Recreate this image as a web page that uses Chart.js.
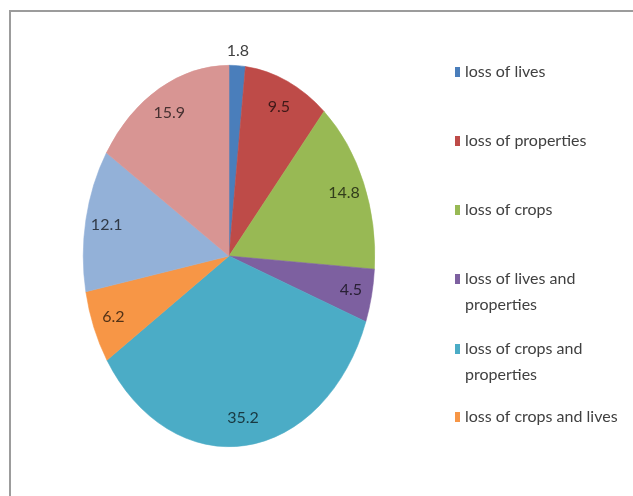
<!DOCTYPE html>
<html>
<head>
<meta charset="utf-8">
<script src="https://cdn.jsdelivr.net/npm/chart.js@4/dist/chart.umd.min.js"></script>
<style>
  html, body { margin: 0; padding: 0; background: #ffffff; overflow: hidden; }
  #c { display: block; }
</style>
</head>
<body>
<canvas id="c" width="633" height="496"></canvas>
<script>
// ---- data ----
const categories = [
  'loss of lives',
  'loss of properties',
  'loss of crops',
  'loss of lives and properties',
  'loss of crops and properties',
  'loss of crops and lives',
  'loss of lives, crops and properties',
  'no loss'
];
const values = [1.8, 9.5, 14.8, 4.5, 35.2, 6.2, 12.1, 15.9];
const valueLabels = ['1.8', '9.5', '14.8', '4.5', '35.2', '6.2', '12.1', '15.9'];
const legendShown = 6; // legend in the picture is cut after six entries

// ---- style ----
const sliceColors = ['#4A7EBB', '#BE4B48', '#98B954', '#7D60A0', '#4BACC6', '#F79646', '#93B1D8', '#D89593'];
const yStretch = 191 / 146;

function darken(hex, f) {
  const n = parseInt(hex.slice(1), 16);
  const r = Math.round(((n >> 16) & 255) * f);
  const g = Math.round(((n >> 8) & 255) * f);
  const b = Math.round((n & 255) * f);
  return 'rgb(' + r + ',' + g + ',' + b + ')';
}

const stretchPlugin = {
  id: 'stretch',
  beforeDraw(chart) {
    const ctx = chart.ctx;
    ctx.save();
    ctx.fillStyle = '#ffffff';
    ctx.fillRect(0, 0, chart.width, chart.height);
    ctx.strokeStyle = '#9c9c9c';
    ctx.lineWidth = 2;
    ctx.beginPath();
    ctx.moveTo(633, 11);
    ctx.lineTo(10, 11);
    ctx.lineTo(10, 496);
    ctx.stroke();
    ctx.restore();
  },
  beforeDatasetsDraw(chart) {
    const a = chart.chartArea;
    const cy = (a.top + a.bottom) / 2;
    const ctx = chart.ctx;
    ctx.save();
    ctx.translate(0, cy);
    ctx.scale(1, yStretch);
    ctx.translate(0, -cy);
  },
  afterDatasetsDraw(chart) {
    chart.ctx.restore();
  },
  afterDraw(chart) {
    const ctx = chart.ctx;
    const meta = chart.getDatasetMeta(0);
    // value labels
    ctx.save();
    ctx.font = '16px Lato, "Open Sans", sans-serif';
    ctx.textAlign = 'center';
    ctx.textBaseline = 'middle';
    meta.data.forEach((arc, i) => {
      const p = arc.getProps(['x', 'y', 'startAngle', 'endAngle', 'outerRadius'], true);
      const mid = (p.startAngle + p.endAngle) / 2;
      const share = values[i] / values.reduce((s, v) => s + v, 0);
      const frac = share < 0.03 ? 1.08 : 0.855;
      const x = p.x + Math.cos(mid) * p.outerRadius * frac;
      const y = p.y + Math.sin(mid) * p.outerRadius * frac * yStretch;
      ctx.fillStyle = share < 0.03 ? '#404040' : darken(sliceColors[i], 0.33);
      ctx.fillText(valueLabels[i], x, y);
    });
    ctx.restore();

    // legend
    ctx.save();
    ctx.font = '16px Lato, "Open Sans", sans-serif';
    ctx.textAlign = 'left';
    ctx.textBaseline = 'middle';
    const lx = 455, tx = 465, wrapW = 158;
    const rowY = [72, 141, 210, 279, 349, 417];
    const lineH = 26;
    for (let i = 0; i < legendShown; i++) {
      const words = categories[i].split(' ');
      const lines = [];
      let cur = '';
      words.forEach(w => {
        const t = cur ? cur + ' ' + w : w;
        if (ctx.measureText(t).width > wrapW && cur) { lines.push(cur); cur = w; }
        else cur = t;
      });
      lines.push(cur);
      const y0 = rowY[i];
      ctx.fillStyle = sliceColors[i];
      ctx.fillRect(lx, y0 - 5, 5, 10);
      ctx.fillStyle = '#404040';
      lines.forEach((ln, k) => ctx.fillText(ln, tx, y0 + k * lineH));
    }
    ctx.restore();
  }
};

new Chart(document.getElementById('c'), {
  type: 'pie',
  data: {
    labels: categories,
    datasets: [{
      data: values,
      backgroundColor: sliceColors,
      borderColor: sliceColors,
      borderWidth: 0.5,
      clip: false
    }]
  },
  options: {
    responsive: false,
    animation: false,
    events: [],
    layout: { padding: { left: 83, right: 258, top: 110, bottom: 94 } },
    plugins: {
      legend: { display: false },
      tooltip: { enabled: false }
    }
  },
  plugins: [stretchPlugin]
});
</script>
</body>
</html>
